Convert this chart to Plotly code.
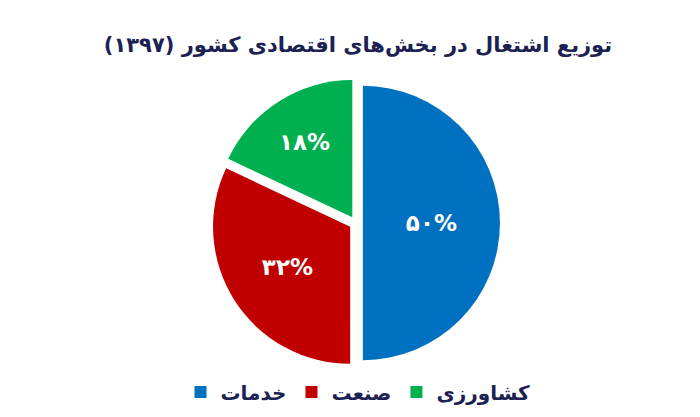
import plotly.graph_objects as go

categories = ["خدمات", "صنعت", "کشاورزی"]
values = [50, 32, 18]
value_labels = ["۵۰%", "۳۲%", "۱۸%"]
colors = ["#0070C0", "#C00000", "#00B050"]
title_text = "توزیع اشتغال در بخش‌های اقتصادی کشور (۱۳۹۷)"

W, H = 700, 417

fig = go.Figure(go.Pie(
    labels=categories,
    values=values,
    text=value_labels,
    textinfo="text",
    textposition="inside",
    insidetextorientation="horizontal",
    textfont=dict(family="DejaVu Sans", size=23, color="white", weight="bold"),
    marker=dict(colors=colors, line=dict(width=0)),
    sort=False,
    direction="clockwise",
    rotation=0,
    pull=[0.05, 0.05, 0.05],
    domain=dict(x=[204 / W, 492 / W], y=[(H - 359) / H, (H - 71) / H]),
    hoverinfo="label+percent",
))

fig.update_layout(
    width=W, height=H,
    margin=dict(l=0, r=0, t=0, b=0),
    paper_bgcolor="white",
    plot_bgcolor="white",
    title=dict(
        text=title_text,
        x=0.5, xanchor="center",
        y=(H - 37) / H, yanchor="middle",
        font=dict(family="DejaVu Sans", size=21, color="#1B2152", weight="bold"),
    ),
    legend=dict(
        orientation="h",
        x=0.5, xanchor="center",
        y=(H - 384) / H, yanchor="middle",
        font=dict(family="DejaVu Sans", size=20, color="#1B2152", weight="bold"),
        itemwidth=30,
    ),
    showlegend=True,
)

fig.write_html("out.html")
